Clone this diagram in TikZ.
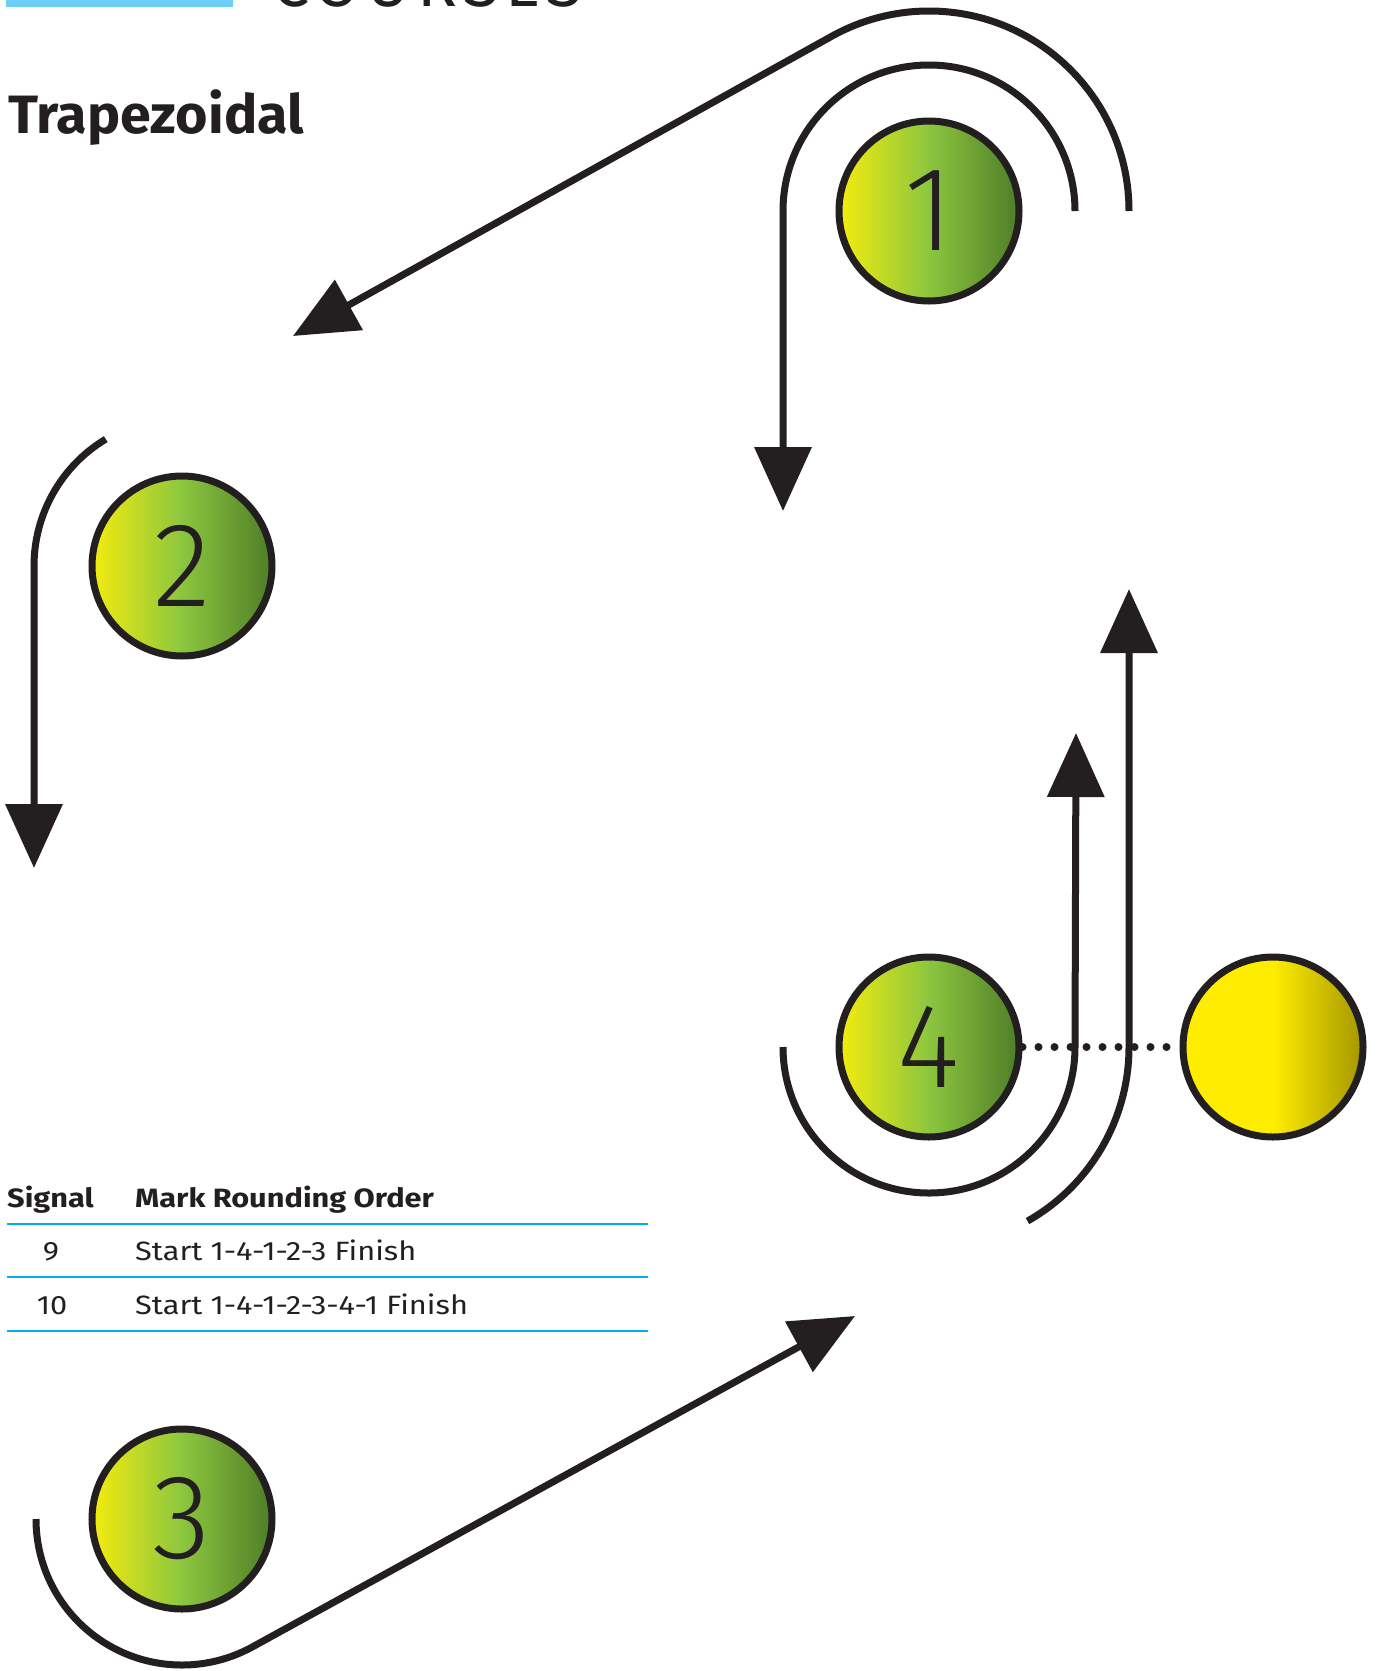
\documentclass[tikz,border=0pt]{standalone}
\usepackage{fontspec}
\setmainfont{Fira Sans}
\newfontfamily\coursesfont[LetterSpace=10]{Fira Sans}
\newfontfamily\digitfont{Fira Sans Light}
\newfontfamily\tablefont[FakeStretch=1.16]{Fira Sans}
\newfontfamily\titlefont[FakeStretch=1.03]{Fira Sans}
\usetikzlibrary{arrows.meta}
\definecolor{ink}{HTML}{231F20}
\definecolor{gy}{HTML}{F4EC0E}
\definecolor{gm}{HTML}{8CC63F}
\definecolor{gd}{HTML}{4E7D27}
\definecolor{yy}{HTML}{FFED00}
\definecolor{yd}{HTML}{A49600}
\definecolor{rule}{HTML}{00AEEF}
\definecolor{bar}{HTML}{6DCFF6}
\tikzset{
  markbuoy/.style={circle, draw=ink, line width=7pt, minimum size=180pt, inner sep=0pt,
    left color=gy, right color=gd, middle color=gm, text=ink,
    font=\fontsize{120}{120}\selectfont\digitfont},
  plainbuoy/.style={circle, draw=ink, line width=7pt, minimum size=180pt, inner sep=0pt,
    left color=yy, right color=yd, middle color=yy},
  course/.style={draw=ink, line width=7pt},
  coursearrow/.style={course, -{Triangle[width=56pt,length=64pt]}},
  dots/.style={draw=ink, line width=8pt, line cap=round, dash pattern=on 0pt off 16pt},
  tablerule/.style={draw=rule, line width=2.5pt},
  headtext/.style={font=\tablefont\fontsize{26.5}{26.5}\selectfont\bfseries, text=ink, inner sep=0pt},
  bodytext/.style={font=\tablefont\fontsize{26.5}{26.5}\selectfont, text=ink, inner sep=0pt},
}
\begin{document}
\begin{tikzpicture}[x=1pt,y=1pt]
\clip (0,0) rectangle (1383,-1671);
\fill[white] (0,0) rectangle (1383,-1671);
% header remnants
\fill[bar] (6,0) rectangle (233,-7);
\node[anchor=base west, inner sep=0pt, text=ink, font=\fontsize{66}{66}\selectfont\coursesfont] (courses) at (272,-6) {COURSES};
\node[anchor=base west, inner sep=0pt, text=ink, font=\titlefont\fontsize{54}{54}\selectfont\bfseries] (title) at (8,-133) {Trapezoidal};
% buoys
\node[markbuoy] (m1) at (929,-211) {1};
\node[markbuoy] (m2) at (182,-566) {2};
\node[markbuoy] (m3) at (182,-1519) {3};
\node[markbuoy] (m4) at (929,-1047) {4};
\node[plainbuoy] (yb) at (1273,-1047) {};
% dotted start line
\draw[dots] (m4.east) -- (yb.west);
% arrow end points
\coordinate (t12) at (293,-336);
\coordinate (t1d) at (783,-511);
\coordinate (t2d) at (34,-868);
\coordinate (t34) at (855,-1316);
\coordinate (t4i) at (1076,-733);
\coordinate (t4o) at (1129,-589);
% course legs
\draw[coursearrow] ([xshift=200pt]m1.center) arc[start angle=0, end angle=119.1, radius=200] -- (t12);
\draw[coursearrow] ([xshift=146pt]m1.center) arc[start angle=0, end angle=180, radius=146] -- (t1d);
\draw[coursearrow] ([shift={(121:148)}]m2.center) arc[start angle=121, end angle=180, radius=148] -- (t2d);
\draw[coursearrow] ([xshift=-146pt]m3.center) arc[start angle=180, end angle=298.7, radius=146] -- (t34);
\draw[coursearrow] ([xshift=-146pt]m4.center) arc[start angle=180, end angle=360, radius=146] -- (t4i);
\draw[coursearrow] ([shift={(-60.5:200)}]m4.center) arc[start angle=-60.5, end angle=0, radius=200] -- (t4o);
% table
\node[headtext, anchor=base west] (hsig) at (7,-1207) {Signal};
\node[headtext, anchor=base west] (hord) at (135,-1207) {Mark Rounding Order};
\draw[tablerule] (7,-1224) -- (648,-1224);
\node[bodytext, anchor=base] (s9) at (51,-1260) {9};
\node[bodytext, anchor=base west] (o9) at (135,-1260) {Start 1-4-1-2-3 Finish};
\draw[tablerule] (7,-1277) -- (648,-1277);
\node[bodytext, anchor=base] (s10) at (52,-1314) {10};
\node[bodytext, anchor=base west] (o10) at (135,-1314) {Start 1-4-1-2-3-4-1 Finish};
\draw[tablerule] (7,-1331) -- (648,-1331);
\end{tikzpicture}
\end{document}
